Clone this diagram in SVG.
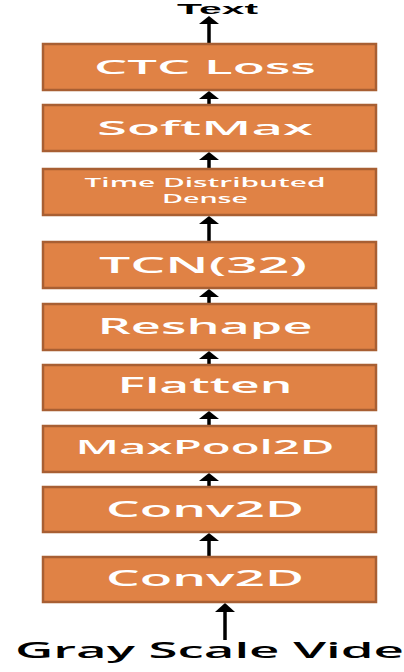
<svg xmlns="http://www.w3.org/2000/svg" width="404" height="672" viewBox="0 0 404 672">
<defs>
<style>
.box{fill:#E08245;stroke:#A85F33;stroke-width:2.5}
.lbl{font-family:"Open Sans","Liberation Sans",Arial,sans-serif;font-weight:600;fill:#FFFFFF;text-anchor:middle}
.ext{font-family:"Open Sans","Liberation Sans",Arial,sans-serif;font-weight:600;fill:#000000}
.ln{stroke:#000;stroke-width:3.5;fill:none}
.hd{fill:#000}
</style>
</defs>
<rect width="404" height="672" fill="#FFFFFF"/>
<g id="connectors">
<line class="ln" x1="209" y1="43" x2="209" y2="21"/><polygon class="hd" points="209,16 219,24 199,24"/>
<line class="ln" x1="209" y1="104" x2="209" y2="96"/><polygon class="hd" points="209,91 219,99 199,99"/>
<line class="ln" x1="209" y1="168" x2="209" y2="157"/><polygon class="hd" points="209,152 219,160 199,160"/>
<line class="ln" x1="209" y1="241" x2="209" y2="220"/><polygon class="hd" points="209,216 219,224 199,224"/>
<line class="ln" x1="209" y1="303" x2="209" y2="293"/><polygon class="hd" points="209,289 219,297 199,297"/>
<line class="ln" x1="209" y1="364" x2="209" y2="355"/><polygon class="hd" points="209,351 219,359 199,359"/>
<line class="ln" x1="209" y1="425" x2="209" y2="415"/><polygon class="hd" points="209,411 219,419 199,419"/>
<line class="ln" x1="209" y1="486" x2="209" y2="477"/><polygon class="hd" points="209,473 219,481 199,481"/>
<line class="ln" x1="209" y1="556" x2="209" y2="537"/><polygon class="hd" points="209,533 219,541 199,541"/>
<line class="ln" x1="225" y1="640" x2="225" y2="608"/><polygon class="hd" points="225,603 235,612 215,612"/>
</g>
<g id="text-out"><text x="177" y="14" font-family="'Liberation Sans',Arial,sans-serif" font-weight="bold" font-size="15" fill="#000" textLength="81" lengthAdjust="spacingAndGlyphs">Text</text></g>
<g id="ctc"><rect class="box" x="43" y="44" width="333" height="46"/><text class="lbl" x="205" y="74" font-size="20" textLength="222" lengthAdjust="spacingAndGlyphs">CTC Loss</text></g>
<g id="softmax"><rect class="box" x="43" y="105" width="333" height="46"/><text class="lbl" x="205" y="135" font-size="20" textLength="216" lengthAdjust="spacingAndGlyphs">SoftMax</text></g>
<g id="tdd"><rect class="box" x="43" y="169" width="333" height="46"/><text class="lbl" x="205" y="187" font-size="13" textLength="241" lengthAdjust="spacingAndGlyphs">Time Distributed</text><text class="lbl" x="205" y="203" font-size="13" textLength="86" lengthAdjust="spacingAndGlyphs">Dense</text></g>
<g id="tcn"><rect class="box" x="43" y="242" width="333" height="46"/><text class="lbl" x="203" y="273" font-size="22" textLength="208" lengthAdjust="spacingAndGlyphs">TCN(32)</text></g>
<g id="reshape"><rect class="box" x="43" y="304" width="333" height="46"/><text class="lbl" x="205" y="334" font-size="21" textLength="215" lengthAdjust="spacingAndGlyphs">Reshape</text></g>
<g id="flatten"><rect class="box" x="43" y="365" width="333" height="45"/><text class="lbl" x="205" y="393" font-size="21" textLength="175" lengthAdjust="spacingAndGlyphs">Flatten</text></g>
<g id="maxpool"><rect class="box" x="43" y="426" width="333" height="46"/><text class="lbl" x="205" y="454" font-size="20" textLength="259" lengthAdjust="spacingAndGlyphs">MaxPool2D</text></g>
<g id="conv2d-2"><rect class="box" x="43" y="487" width="333" height="45"/><text class="lbl" x="205" y="517" font-size="21" textLength="198" lengthAdjust="spacingAndGlyphs">Conv2D</text></g>
<g id="conv2d-1"><rect class="box" x="43" y="557" width="333" height="45"/><text class="lbl" x="205" y="586" font-size="21" textLength="198" lengthAdjust="spacingAndGlyphs">Conv2D</text></g>
<g id="text-in"><text class="ext" x="15" y="658" font-size="21" textLength="389" lengthAdjust="spacingAndGlyphs">Gray Scale Vide</text></g>
</svg>
